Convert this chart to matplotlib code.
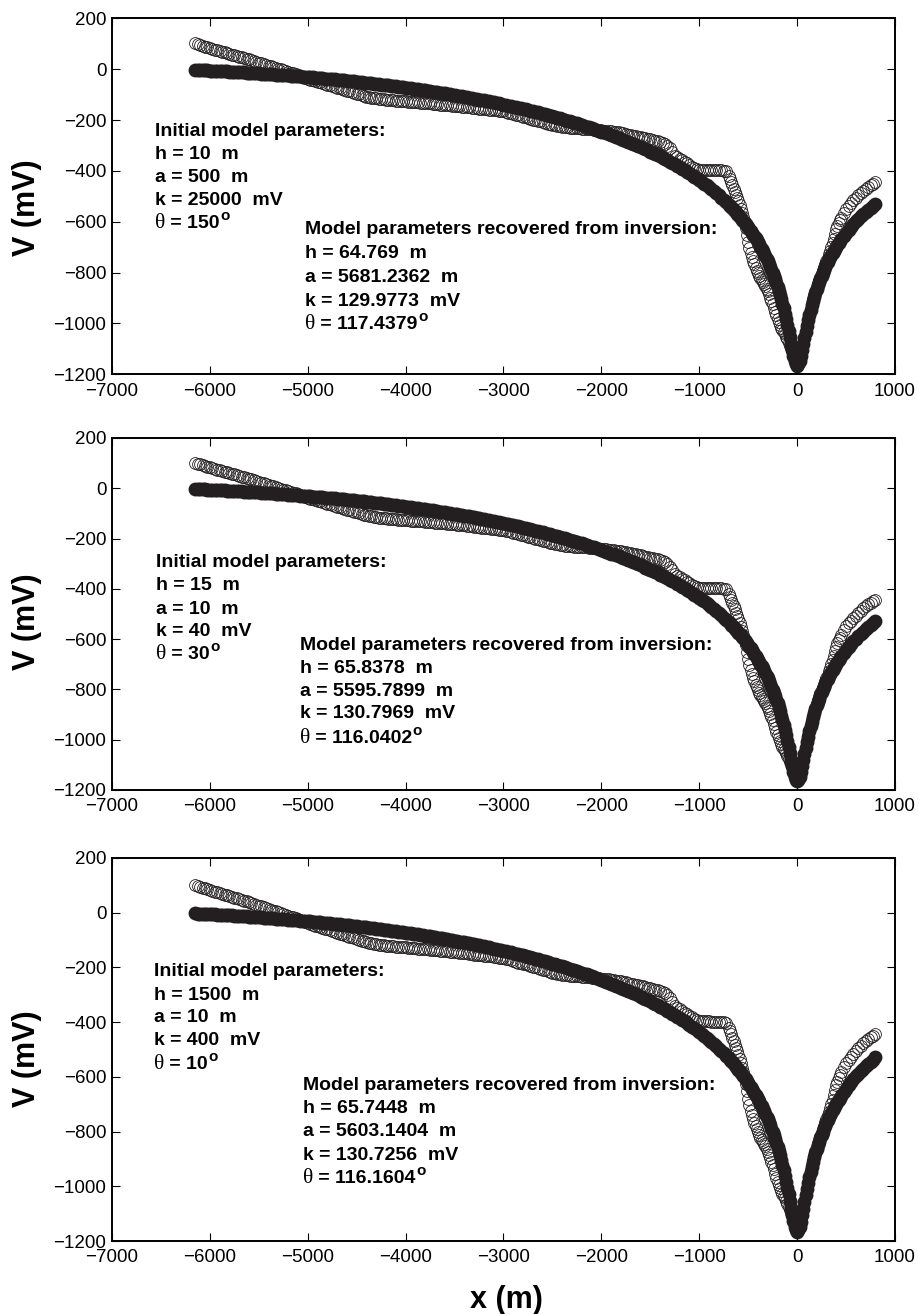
import matplotlib
matplotlib.use("Agg")
import matplotlib.pyplot as plt

plt.rcParams['font.family'] = ['Liberation Sans', 'DejaVu Sans']
plt.rcParams['axes.unicode_minus'] = True

# Station positions along the profile (m), 25 m spacing
x_m = [
    -6150, -6125, -6100, -6075, -6050, -6025, -6000, -5975, -5950, -5925,
    -5900, -5875, -5850, -5825, -5800, -5775, -5750, -5725, -5700, -5675,
    -5650, -5625, -5600, -5575, -5550, -5525, -5500, -5475, -5450, -5425,
    -5400, -5375, -5350, -5325, -5300, -5275, -5250, -5225, -5200, -5175,
    -5150, -5125, -5100, -5075, -5050, -5025, -5000, -4975, -4950, -4925,
    -4900, -4875, -4850, -4825, -4800, -4775, -4750, -4725, -4700, -4675,
    -4650, -4625, -4600, -4575, -4550, -4525, -4500, -4475, -4450, -4425,
    -4400, -4375, -4350, -4325, -4300, -4275, -4250, -4225, -4200, -4175,
    -4150, -4125, -4100, -4075, -4050, -4025, -4000, -3975, -3950, -3925,
    -3900, -3875, -3850, -3825, -3800, -3775, -3750, -3725, -3700, -3675,
    -3650, -3625, -3600, -3575, -3550, -3525, -3500, -3475, -3450, -3425,
    -3400, -3375, -3350, -3325, -3300, -3275, -3250, -3225, -3200, -3175,
    -3150, -3125, -3100, -3075, -3050, -3025, -3000, -2975, -2950, -2925,
    -2900, -2875, -2850, -2825, -2800, -2775, -2750, -2725, -2700, -2675,
    -2650, -2625, -2600, -2575, -2550, -2525, -2500, -2475, -2450, -2425,
    -2400, -2375, -2350, -2325, -2300, -2275, -2250, -2225, -2200, -2175,
    -2150, -2125, -2100, -2075, -2050, -2025, -2000, -1975, -1950, -1925,
    -1900, -1875, -1850, -1825, -1800, -1775, -1750, -1725, -1700, -1675,
    -1650, -1625, -1600, -1575, -1550, -1525, -1500, -1475, -1450, -1425,
    -1400, -1375, -1350, -1325, -1300, -1275, -1250, -1225, -1200, -1175,
    -1150, -1125, -1100, -1075, -1050, -1025, -1000, -975, -950, -925,
    -900, -875, -850, -825, -800, -775, -750, -725, -700, -675,
    -650, -625, -600, -575, -550, -525, -500, -475, -450, -425,
    -400, -375, -350, -325, -300, -275, -250, -225, -200, -175,
    -150, -125, -100, -75, -50, -25, 0, 25, 50, 75,
    100, 125, 150, 175, 200, 225, 250, 275, 300, 325,
    350, 375, 400, 425, 450, 475, 500, 525, 550, 575,
    600, 625, 650, 675, 700, 725, 750, 775, 800,
]

# Field self-potential readings (mV)
observed_mv = [
    101, 98, 95, 92, 89, 86, 83, 80, 77, 74,
    72, 69, 66, 63, 60, 57, 55, 52, 49, 46,
    44, 41, 38, 35, 32, 29, 26, 23, 20, 17,
    14, 11, 8, 5, 2, -1, -5, -8, -11, -14,
    -17, -20, -24, -27, -31, -34, -38, -41, -44, -47,
    -50, -52, -55, -58, -61, -64, -67, -70, -73, -76,
    -79, -82, -85, -87, -90, -93, -96, -99, -102, -105,
    -108, -110, -112, -114, -115, -117, -118, -119, -120, -121,
    -122, -123, -124, -125, -126, -126, -127, -128, -129, -129,
    -130, -131, -132, -132, -133, -134, -135, -136, -137, -138,
    -139, -139, -140, -141, -142, -143, -144, -145, -146, -147,
    -148, -149, -150, -151, -153, -154, -155, -156, -157, -158,
    -159, -160, -161, -162, -164, -165, -166, -168, -171, -173,
    -176, -179, -182, -184, -187, -189, -192, -195, -198, -200,
    -203, -205, -208, -211, -214, -216, -219, -221, -223, -225,
    -226, -228, -229, -230, -231, -232, -233, -233, -234, -234,
    -235, -236, -237, -238, -239, -240, -241, -242, -243, -244,
    -245, -246, -248, -249, -251, -253, -255, -257, -259, -261,
    -263, -265, -267, -269, -272, -274, -276, -278, -281, -283,
    -286, -289, -293, -301, -312, -326, -340, -347, -353, -359,
    -365, -371, -377, -383, -389, -393, -396, -396, -397, -397,
    -397, -398, -398, -398, -398, -398, -399, -402, -420, -444,
    -470, -495, -520, -550, -583, -625, -680, -723, -754, -781,
    -803, -822, -838, -854, -874, -898, -923, -954, -983, -1007,
    -1027, -1043, -1063, -1087, -1110, -1131, -1155, -1140, -1100, -1052,
    -1005, -962, -923, -888, -857, -830, -803, -778, -755, -728,
    -700, -668, -630, -605, -584, -565, -548, -537, -527, -516,
    -506, -496, -487, -478, -470, -462, -455, -450, -445,
]

# Response of the inverted inclined-sheet model (mV)
model_mv = [
    -2.5, -3.0, -3.4, -3.9, -4.4, -4.9, -5.4, -5.9, -6.4, -6.9,
    -7.4, -7.9, -8.5, -9.0, -9.5, -10.1, -10.7, -11.2, -11.8, -12.4,
    -13.0, -13.5, -14.1, -14.7, -15.4, -16.0, -16.6, -17.2, -17.9, -18.5,
    -19.2, -19.9, -20.6, -21.3, -22.0, -22.7, -23.4, -24.1, -24.9, -25.6,
    -26.4, -27.1, -27.9, -28.7, -29.5, -30.3, -31.1, -31.9, -32.8, -33.6,
    -34.4, -35.2, -36.1, -37.0, -37.9, -38.8, -39.7, -40.6, -41.6, -42.5,
    -43.5, -44.4, -45.4, -46.4, -47.4, -48.4, -49.4, -50.4, -51.5, -52.5,
    -53.6, -54.7, -55.8, -56.9, -58.1, -59.2, -60.4, -61.6, -62.8, -64.0,
    -65.2, -66.4, -67.6, -68.8, -70.1, -71.4, -72.7, -74.0, -75.4, -76.7,
    -78.1, -79.4, -80.8, -82.2, -83.6, -85.0, -86.5, -88.0, -89.5, -91.0,
    -92.5, -94.0, -95.6, -97.2, -98.8, -100.4, -102.0, -103.6, -105.3, -107.0,
    -108.7, -110.4, -112.2, -114.0, -115.8, -117.6, -119.4, -121.2, -123.1, -125.0,
    -127.0, -128.9, -130.9, -132.9, -134.9, -136.9, -139.0, -141.1, -143.2, -145.3,
    -147.4, -149.6, -151.8, -154.0, -156.3, -158.6, -160.9, -163.2, -165.6, -168.0,
    -170.4, -172.9, -175.4, -177.9, -180.5, -183.1, -185.7, -188.3, -191.0, -193.7,
    -196.4, -199.2, -202.0, -204.8, -207.7, -210.6, -213.6, -216.6, -219.6, -222.7,
    -225.8, -229.0, -232.2, -235.5, -238.8, -242.1, -245.5, -248.9, -252.4, -255.9,
    -259.4, -263.0, -266.7, -270.4, -274.2, -278.0, -281.9, -285.8, -289.8, -293.9,
    -298.0, -302.2, -306.5, -310.9, -315.3, -319.8, -324.3, -328.9, -333.6, -338.4,
    -343.2, -348.1, -353.1, -358.3, -363.6, -369.0, -374.5, -380.1, -385.8, -391.7,
    -397.6, -403.6, -409.7, -416.0, -422.5, -429.1, -435.8, -442.7, -449.8, -457.1,
    -464.6, -472.2, -480.1, -488.2, -496.6, -505.2, -514.0, -523.2, -532.7, -542.5,
    -552.6, -563.1, -574.0, -585.4, -597.3, -609.6, -622.6, -636.1, -650.4, -665.4,
    -681.2, -698.0, -715.8, -734.9, -755.3, -777.3, -801.2, -827.1, -855.6, -887.1,
    -922.1, -961.3, -1005.2, -1053.6, -1103.9, -1147.2, -1165.7, -1148.2, -1106.0, -1056.7,
    -1009.4, -966.5, -928.3, -894.3, -863.9, -836.4, -811.5, -788.7, -767.7, -748.3,
    -730.3, -713.4, -697.7, -682.8, -668.9, -655.6, -643.1, -631.2, -619.8, -609.0,
    -598.6, -588.7, -579.2, -570.1, -561.3, -552.8, -544.7, -536.8, -529.2,
]

# Extra stations across the anomaly (m), offset by half a spacing
x_half_m = [
    -687.5, -662.5, -637.5, -612.5, -587.5, -562.5, -537.5, -512.5, -487.5, -462.5,
    -437.5, -412.5, -387.5, -362.5, -337.5, -312.5, -287.5, -262.5, -237.5, -212.5,
    -187.5, -162.5, -137.5, -112.5, -87.5, -62.5, -37.5, -12.5, 12.5, 37.5,
    62.5, 87.5, 112.5, 137.5, 162.5, 187.5, 212.5, 237.5, 262.5, 287.5,
    312.5, 337.5, 362.5, 387.5, 412.5, 437.5,
]
observed_half_mv = [
    -432, -457, -482, -507, -535, -566, -603, -652, -702, -739,
    -768, -792, -813, -830, -846, -864, -886, -910, -938, -968,
    -995, -1017, -1035, -1053, -1075, -1098, -1120, -1143, -1150, -1122,
    -1076, -1028, -983, -942, -905, -872, -843, -816, -790, -766,
    -741, -714, -684, -649, -617, -594,
]
model_half_mv = [
    -537.6, -547.5, -557.8, -568.5, -579.7, -591.3, -603.4, -616.1, -629.3, -643.2,
    -657.9, -673.2, -689.5, -706.8, -725.3, -745.0, -766.2, -789.2, -813.9, -841.0,
    -871.0, -904.1, -941.2, -982.7, -1028.9, -1078.9, -1127.4, -1160.7, -1161.2, -1128.9,
    -1081.5, -1032.6, -987.3, -946.9, -910.9, -878.7, -849.8, -823.7, -800.0, -778.1,
    -757.9, -739.2, -721.8, -705.5, -690.2, -675.8,
]

x_ticks = [-7000, -6000, -5000, -4000, -3000, -2000, -1000, 0, 1000]
y_ticks = [-1200, -1000, -800, -600, -400, -200, 0, 200]

# Parameter annotations for each inversion run
initial_params = [
    ["h = 10  m", "a = 500  m", "k = 25000  mV", "150"],
    ["h = 15  m", "a = 10  m", "k = 40  mV", "30"],
    ["h = 1500  m", "a = 10  m", "k = 400  mV", "10"],
]
recovered_params = [
    ["h = 64.769  m", "a = 5681.2362  m", "k = 129.9773  mV", "117.4379"],
    ["h = 65.8378  m", "a = 5595.7899  m", "k = 130.7969  mV", "116.0402"],
    ["h = 65.7448  m", "a = 5603.1404  m", "k = 130.7256  mV", "116.1604"],
]

W, H = 920, 1314
INK = '#231f20'

fig = plt.figure(figsize=(W / 100, H / 100), dpi=100)
renderer = fig.canvas.get_renderer()

# panel frames in pixels: (left, top, right, bottom)
frames = [(112, 18.3, 895, 374.3), (112, 438, 895, 790), (112, 858, 895, 1241)]

# text anchor positions in pixels
init_x = [155, 156, 154]
init_y = [[131.7, 154.3, 177.3, 200.3, 223.0],
          [562.7, 585.7, 609.0, 631.7, 654.0],
          [971.7, 995.0, 1017.7, 1040.7, 1064.0]]
rec_x = [305, 300, 303]
rec_y = [[230.0, 254.0, 277.3, 301.0, 324.0],
         [645.0, 668.3, 691.7, 714.0, 738.0],
         [1086.0, 1108.3, 1131.7, 1155.0, 1178.3]]
ylabel_y = [208, 622, 1059]

FS = 14


def fx(px):
    return px / W


def fy(py):
    return 1 - py / H


def theta_line(x_px, y_px, value):
    base = y_px + 5.0
    t1 = fig.text(fx(x_px), fy(base), "\u03b8", fontsize=15.5, family='Liberation Serif',
                  va='baseline', ha='left', color='black')
    bb = t1.get_window_extent(renderer)
    t2 = fig.text(bb.x1 / W, fy(base), " = " + value, fontsize=FS, fontweight='bold',
                  va='baseline', ha='left', color='black')
    bb2 = t2.get_window_extent(renderer)
    fig.text((bb2.x1 + 0.5) / W, fy(base - 8.0), "o", fontsize=11, fontweight='bold',
             va='baseline', ha='left', color='black')


def param_block(x_px, ys, title, lines):
    fig.text(fx(x_px), fy(ys[0]), title, fontsize=FS, fontweight='bold',
             va='center', ha='left', color='black')
    for y, s in zip(ys[1:4], lines[:3]):
        fig.text(fx(x_px), fy(y), s, fontsize=FS, fontweight='bold',
                 va='center', ha='left', color='black')
    theta_line(x_px, ys[4], lines[3])


obs_style = dict(linestyle='none', marker='o', markersize=8.5, markerfacecolor='none',
                 markeredgecolor=INK, markeredgewidth=0.6)
mod_style = dict(linestyle='none', marker='o', markersize=10, markerfacecolor=INK,
                 markeredgecolor=INK, markeredgewidth=0)

for i, (l, t, r, b) in enumerate(frames):
    ax = fig.add_axes([fx(l), fy(b), (r - l) / W, (b - t) / H])
    ax.plot(x_m, observed_mv, **obs_style)
    ax.plot(x_half_m, observed_half_mv, **obs_style)
    ax.plot(x_m, model_mv, **mod_style)
    ax.plot(x_half_m, model_half_mv, **mod_style)
    ax.set_xlim(-7000, 1000)
    ax.set_ylim(-1200, 200)
    ax.set_xticks(x_ticks)
    ax.set_yticks(y_ticks)
    ax.tick_params(direction='in', length=5.5, width=0.8, top=True, right=True,
                   labelsize=13.5, colors='black')
    ax.tick_params(axis='x', pad=6)
    ax.tick_params(axis='y', pad=4)
    for sp in ax.spines.values():
        sp.set_linewidth(1.4)
        sp.set_color('black')
    fig.text(fx(27), fy(ylabel_y[i]), "V (mV)", rotation=90, fontsize=22,
             fontweight='bold', va='center', ha='center')

    param_block(init_x[i], init_y[i], "Initial model parameters:", initial_params[i])
    param_block(rec_x[i], rec_y[i], "Model parameters recovered from inversion:",
                recovered_params[i])

fig.text(fx(506), fy(1300), "x (m)", fontsize=22, fontweight='bold',
         va='center', ha='center')

fig.savefig("out.png", dpi=100)
